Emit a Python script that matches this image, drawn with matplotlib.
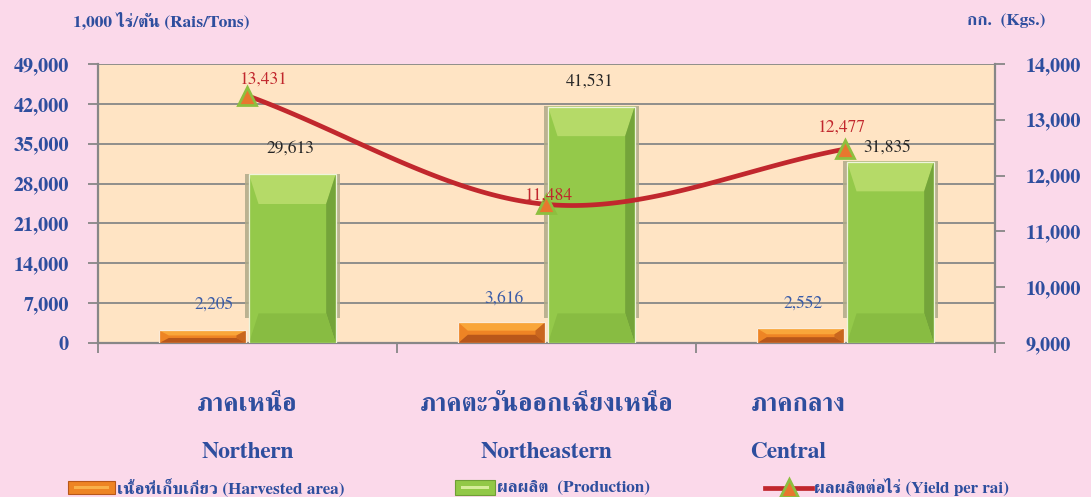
import matplotlib
matplotlib.use('Agg')
import numpy as np
import matplotlib.pyplot as plt
from matplotlib.patches import Rectangle, Polygon
from matplotlib.lines import Line2D

plt.rcParams['font.family'] = ['FreeSerif', 'Noto Serif Thai', 'DejaVu Sans']

# data
regions_th = ['ภาคเหนือ', 'ภาคตะวันออกเฉียงเหนือ', 'ภาคกลาง']
regions_en = ['Northern', 'Northeastern', 'Central']
area = [2205, 3616, 2552]          # 1,000 rai
production = [29613, 41531, 31835]  # tons
yield_rai = [13431, 11484, 12477]   # kg per rai

left_ticks = [0, 7000, 14000, 21000, 28000, 35000, 42000, 49000]
right_ticks = [9000, 10000, 11000, 12000, 13000, 14000]

BLUE = '#2E4E9E'
PINK = '#FBD9EA'
BEIGE = '#FFE4C4'
GREY = '#878787'
RED = '#C1272D'

fig = plt.figure(figsize=(10.91, 4.97), dpi=100, facecolor=PINK)
ax = fig.add_axes([98 / 1091, 1 - 343 / 497, 897 / 1091, 279 / 497])
ax.set_facecolor(BEIGE)
ax.set_xlim(-0.5, 2.5)
ax.set_ylim(0, 49000)
ax.set_axisbelow(True)
ax.yaxis.grid(True, color=GREY, lw=1.3)

for s in ['left', 'right', 'bottom']:
    ax.spines[s].set_color(GREY)
    ax.spines[s].set_linewidth(1.6)
ax.spines['top'].set_visible(False)

ax.set_yticks(left_ticks, [f'{v:,}' for v in left_ticks], fontweight='bold')
ax.tick_params(axis='y', length=7, width=1.3, color=GREY, pad=14,
               labelsize=14.5, labelcolor=BLUE)
ax.set_xticks([-0.5, 0.5, 1.5, 2.5], ['', '', '', ''])
ax.tick_params(axis='x', length=7, width=1.3, color=GREY)


def bevel_bar(ax, xc, w, h, base, light, dark, low, edge, dy):
    x0, x1 = xc - w / 2, xc + w / 2
    dx = w * 0.11
    dy = min(dy, h * 0.4)
    ax.add_patch(Rectangle((x0, 0), w, h, fc=base, ec='none', zorder=3))
    ax.add_patch(Polygon([(x0, h), (x1, h), (x1 - dx, h - dy), (x0 + dx, h - dy)],
                         closed=True, fc=light, ec='none', zorder=3))
    ax.add_patch(Polygon([(x1, h), (x1, 0), (x1 - dx, dy), (x1 - dx, h - dy)],
                         closed=True, fc=dark, ec='none', zorder=3))
    ax.add_patch(Polygon([(x0, 0), (x1, 0), (x1 - dx, dy), (x0 + dx, dy)],
                         closed=True, fc=low, ec='none', zorder=3))
    ax.add_patch(Rectangle((x0, 0), w, h, fc='none', ec=edge, lw=0.9, zorder=3))


w = 0.29
x = np.arange(len(regions_en))
for i in range(len(x)):
    # harvested area (orange)
    bevel_bar(ax, x[i] - w / 2 - 0.005, w, area[i], '#EE8424', '#F9A63A',
              '#C9661E', '#B8571A', '#FCEBD8', 1500)
    # production shadow + bar (green)
    ax.add_patch(Rectangle((x[i] + 0.005 - 0.012, 4400), w + 0.027,
                           production[i] - 4400 + 150, fc='#AFAA88',
                           ec='none', alpha=0.85, zorder=2))
    bevel_bar(ax, x[i] + w / 2 + 0.005, w, production[i], '#94C94A', '#B5DA68',
              '#74A43A', '#88BC42', '#EEF5DC', 5200)

# data labels
area_off = [(10, 26), (1, 24), (1, 25)]
prod_off = [(0, 26), (0, 25), (-2, 14)]
for i in range(len(x)):
    ax.annotate(f'{area[i]:,}', (x[i] - w / 2, area[i]),
                xytext=(area_off[i][0] * 0.72, area_off[i][1] * 0.72),
                textcoords='offset points', ha='center', va='center',
                fontsize=12.5, color='#3A5CA8', zorder=6)
    ax.annotate(f'{production[i]:,}', (x[i] + w / 2, production[i]),
                xytext=(prod_off[i][0] * 0.72, prod_off[i][1] * 0.72),
                textcoords='offset points', ha='center', va='center',
                fontsize=12.5, color='#262626', zorder=6)

# yield line on right axis
ax2 = ax.twinx()
ax2.set_ylim(9000, 14000)
ax2.set_xlim(-0.5, 2.5)
ax2.patch.set_visible(False)
for s in ax2.spines.values():
    s.set_visible(False)
ax2.set_yticks(right_ticks, [f'{v:,}' for v in right_ticks], fontweight='bold')
ax2.tick_params(axis='y', length=7, width=1.3, color=GREY, pad=15,
                labelsize=14.5, labelcolor=BLUE)

# smoothed curve (Catmull-Rom style bezier, like the spreadsheet's smooth line)
px = x.astype(float)
py = np.array(yield_rai, dtype=float)
n = len(px)
tx = np.zeros(n)
ty = np.zeros(n)
for i in range(n):
    a = max(i - 1, 0)
    b = min(i + 1, n - 1)
    tx[i] = (px[b] - px[a]) / (b - a)
    ty[i] = (py[b] - py[a]) / (b - a)
cx, cy = [], []
t = np.linspace(0, 1, 60)
for i in range(n - 1):
    p0 = (px[i], py[i])
    p1 = (px[i] + tx[i] / 3, py[i] + ty[i] / 3)
    p2 = (px[i + 1] - tx[i + 1] / 3, py[i + 1] - ty[i + 1] / 3)
    p3 = (px[i + 1], py[i + 1])
    bx = (1 - t) ** 3 * p0[0] + 3 * (1 - t) ** 2 * t * p1[0] + 3 * (1 - t) * t ** 2 * p2[0] + t ** 3 * p3[0]
    by = (1 - t) ** 3 * p0[1] + 3 * (1 - t) ** 2 * t * p1[1] + 3 * (1 - t) * t ** 2 * p2[1] + t ** 3 * p3[1]
    cx.extend(bx)
    cy.extend(by)
ax2.plot(cx, cy, color=RED, lw=3.4, solid_capstyle='round', zorder=4)
ax2.plot(px, py, ls='none', marker='^', ms=13, mfc='#E8772E', mec='#8DBF3F',
         mew=2, zorder=5)

yld_off = [(15, -16), (2, -9), (-4, -21)]
for i in range(n):
    ax2.annotate(f'{yield_rai[i]:,}', (px[i], py[i]),
                 xytext=(yld_off[i][0] * 0.72, -yld_off[i][1] * 0.72),
                 textcoords='offset points', ha='center', va='center',
                 fontsize=12.5, color=RED, zorder=6)

# category labels (the last pair sits a little left of its group)
th_shift = [0, 0, -47]
en_shift = [0, 0, -57]
for i in range(n):
    ax.annotate(regions_th[i], (x[i], -0.222), xycoords=ax.get_xaxis_transform(),
                xytext=(th_shift[i] * 0.72, 0), textcoords='offset points',
                ha='center', va='center', fontsize=18.5, fontweight='bold', color=BLUE)
    ax.annotate(regions_en[i], (x[i], -0.394), xycoords=ax.get_xaxis_transform(),
                xytext=(en_shift[i] * 0.72, 0), textcoords='offset points',
                ha='center', va='center', fontsize=17, fontweight='bold', color=BLUE)

# axis titles
fig.text(73 / 1091, 1 - 20 / 497, '1,000 ไร่/ตัน (Rais/Tons)', ha='left', va='center',
         fontsize=12.5, fontweight='bold', color=BLUE)
fig.text(1045 / 1091, 1 - 21 / 497, 'กก.  (Kgs.)', ha='right', va='center',
         fontsize=12.5, fontweight='bold', color=BLUE)

# legend (drawn by hand along the bottom edge)
H, W = 497.0, 1091.0
def fx(v):
    return v / W
def fy(v):
    return 1 - v / H

fig.add_artist(Rectangle((fx(68), fy(494)), 47 / W, 13 / H, fc='#EE8424',
                         ec='#B8571A', lw=0.8, transform=fig.transFigure))
fig.add_artist(Rectangle((fx(74), fy(489)), 35 / W, 3 / H, fc='#F9B04A',
                         ec='none', transform=fig.transFigure))
fig.text(fx(117), fy(487), 'เนื้อที่เก็บเกี่ยว (Harvested area)', ha='left',
         va='center', fontsize=12.4, fontweight='bold', color=BLUE)

fig.add_artist(Rectangle((fx(455), fy(495)), 40 / W, 15 / H, fc='#92C847',
                         ec='#6F9E36', lw=0.8, transform=fig.transFigure))
fig.add_artist(Rectangle((fx(461), fy(489)), 28 / W, 3 / H, fc='#D6EC9A',
                         ec='none', transform=fig.transFigure))
fig.text(fx(497), fy(487), 'ผลผลิต  (Production)', ha='left', va='center',
         fontsize=12.4, fontweight='bold', color=BLUE)

fig.add_artist(Line2D([fx(765), fx(812)], [fy(488), fy(488)], color=RED, lw=3.4,
                      transform=fig.transFigure))
fig.add_artist(Line2D([fx(789)], [fy(488)], ls='none', marker='^', ms=13,
                      mfc='#E8772E', mec='#8DBF3F', mew=2,
                      transform=fig.transFigure))
fig.text(fx(814), fy(487), 'ผลผลิตต่อไร่ (Yield per rai)', ha='left', va='center',
         fontsize=12.4, fontweight='bold', color=BLUE)

fig.savefig('out.png', dpi=100, facecolor=PINK)
